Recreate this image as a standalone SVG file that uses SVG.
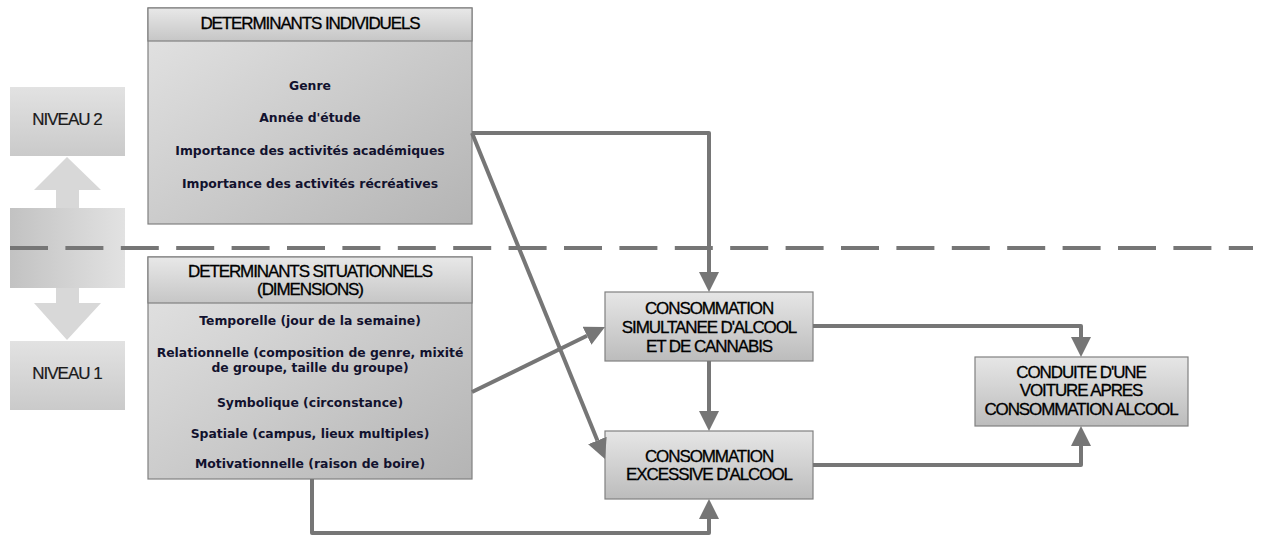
<svg xmlns="http://www.w3.org/2000/svg" width="1261" height="535" viewBox="0 0 1261 535">
<defs>
<linearGradient id="gBody" x1="0" y1="0" x2="1" y2="1"><stop offset="0" stop-color="#e4e4e4"/><stop offset="1" stop-color="#b4b4b4"/></linearGradient>
<linearGradient id="gHead" x1="0" y1="0" x2="0" y2="1"><stop offset="0" stop-color="#e8e8e8"/><stop offset="1" stop-color="#c6c6c6"/></linearGradient>
<linearGradient id="gBox" x1="0" y1="0" x2="0" y2="1"><stop offset="0" stop-color="#e6e6e6"/><stop offset="1" stop-color="#bcbcbc"/></linearGradient>
<linearGradient id="gLvl" x1="0" y1="0" x2="0" y2="1"><stop offset="0" stop-color="#e2e2e2"/><stop offset="1" stop-color="#cacaca"/></linearGradient>
<linearGradient id="gMid" x1="0" y1="0" x2="1" y2="0"><stop offset="0" stop-color="#c2c2c2"/><stop offset="1" stop-color="#e2e2e2"/></linearGradient>
<marker id="ah" markerUnits="userSpaceOnUse" markerWidth="20" markerHeight="20" refX="0" refY="10" orient="auto" viewBox="0 0 20 20"><path d="M0,0 L20,10 L0,20 z" fill="#767676"/></marker>
</defs>
<style>
.box{stroke:#808080;stroke-width:1.2}
.ttl{font-family:"Liberation Sans",Arial,sans-serif;font-size:17px;letter-spacing:-1.1px;fill:#000;stroke:#000;stroke-width:0.3;text-anchor:middle}
.lvl{font-family:"Liberation Sans",Arial,sans-serif;font-size:17px;letter-spacing:-1px;fill:#1a1a1a;stroke:#1a1a1a;stroke-width:0.2;text-anchor:middle}
.body{font-family:"DejaVu Sans",Verdana,sans-serif;font-weight:bold;font-size:12.4px;fill:#12122e;text-anchor:middle}
.con{fill:none;stroke:#767676;stroke-width:4;stroke-linejoin:round}
</style>
<rect width="1261" height="535" fill="#fff"/>
<g id="levels">
<g id="niveau2"><rect x="10" y="87" width="115" height="69" fill="url(#gLvl)"/><text class="lvl" x="67" y="125">NIVEAU 2</text></g>
<g id="level-arrows">
<polygon points="67,157 101,190 79,190 79,208 56,208 56,190 34,190" fill="#d8d8d8"/>
<rect x="10" y="208" width="115" height="80" fill="url(#gMid)"/>
<polygon points="56,288 79,288 79,303 101,303 67,340 34,303 56,303" fill="#d8d8d8"/>
</g>
<g id="niveau1"><rect x="10" y="341" width="115" height="69" fill="url(#gLvl)"/><text class="lvl" x="67" y="379">NIVEAU 1</text></g>
</g>
<g id="individuels">
<rect class="box" x="148" y="8" width="324" height="216" fill="url(#gBody)"/>
<rect class="box" x="148" y="8" width="324" height="33" fill="url(#gHead)"/>
<text class="ttl" x="310" y="29">DETERMINANTS INDIVIDUELS</text>
<text class="body" x="310" y="90">Genre</text>
<text class="body" x="310" y="122">Année d'étude</text>
<text class="body" x="310" y="155">Importance des activités académiques</text>
<text class="body" x="310" y="188">Importance des activités récréatives</text>
</g>
<g id="situationnels">
<rect class="box" x="148" y="257" width="324" height="222" fill="url(#gBody)"/>
<rect class="box" x="148" y="257" width="324" height="46" fill="url(#gHead)"/>
<text class="ttl" x="310" y="277">DETERMINANTS SITUATIONNELS</text>
<text class="ttl" x="310" y="295">(DIMENSIONS)</text>
<text class="body" x="310" y="325">Temporelle (jour de la semaine)</text>
<text class="body" x="310" y="357">Relationnelle (composition de genre, mixité</text>
<text class="body" x="310" y="372">de groupe, taille du groupe)</text>
<text class="body" x="310" y="407">Symbolique (circonstance)</text>
<text class="body" x="310" y="438">Spatiale (campus, lieux multiples)</text>
<text class="body" x="310" y="468">Motivationnelle (raison de boire)</text>
</g>
<g id="simultanee">
<rect class="box" x="605" y="292" width="208" height="69" fill="url(#gBox)"/>
<text class="ttl" x="709" y="314">CONSOMMATION</text>
<text class="ttl" x="709" y="333">SIMULTANEE D'ALCOOL</text>
<text class="ttl" x="709" y="352">ET DE CANNABIS</text>
</g>
<g id="excessive">
<rect class="box" x="605" y="431" width="208" height="68" fill="url(#gBox)"/>
<text class="ttl" x="709" y="462">CONSOMMATION</text>
<text class="ttl" x="709" y="480">EXCESSIVE D'ALCOOL</text>
</g>
<g id="conduite">
<rect class="box" x="975" y="357" width="213" height="69" fill="url(#gBox)"/>
<text class="ttl" x="1081" y="378">CONDUITE D'UNE</text>
<text class="ttl" x="1081" y="396">VOITURE APRES</text>
<text class="ttl" x="1081" y="415">CONSOMMATION ALCOOL</text>
</g>
<g id="connectors">
<path class="con" d="M10,248 H1253" stroke-dasharray="38 17.4" stroke-linejoin="miter"/>
<path class="con" d="M472,133 H709 V272" marker-end="url(#ah)"/>
<path class="con" d="M472,133 L597.4,440.5" marker-end="url(#ah)"/>
<path class="con" d="M472,392 L587,335.8" marker-end="url(#ah)"/>
<path class="con" d="M709,361 V411" marker-end="url(#ah)"/>
<path class="con" d="M312,479 V533 H709 V519" marker-end="url(#ah)"/>
<path class="con" d="M813,326 H1081 V337" marker-end="url(#ah)"/>
<path class="con" d="M813,465 H1081 V446" marker-end="url(#ah)"/>
</g>
</svg>
